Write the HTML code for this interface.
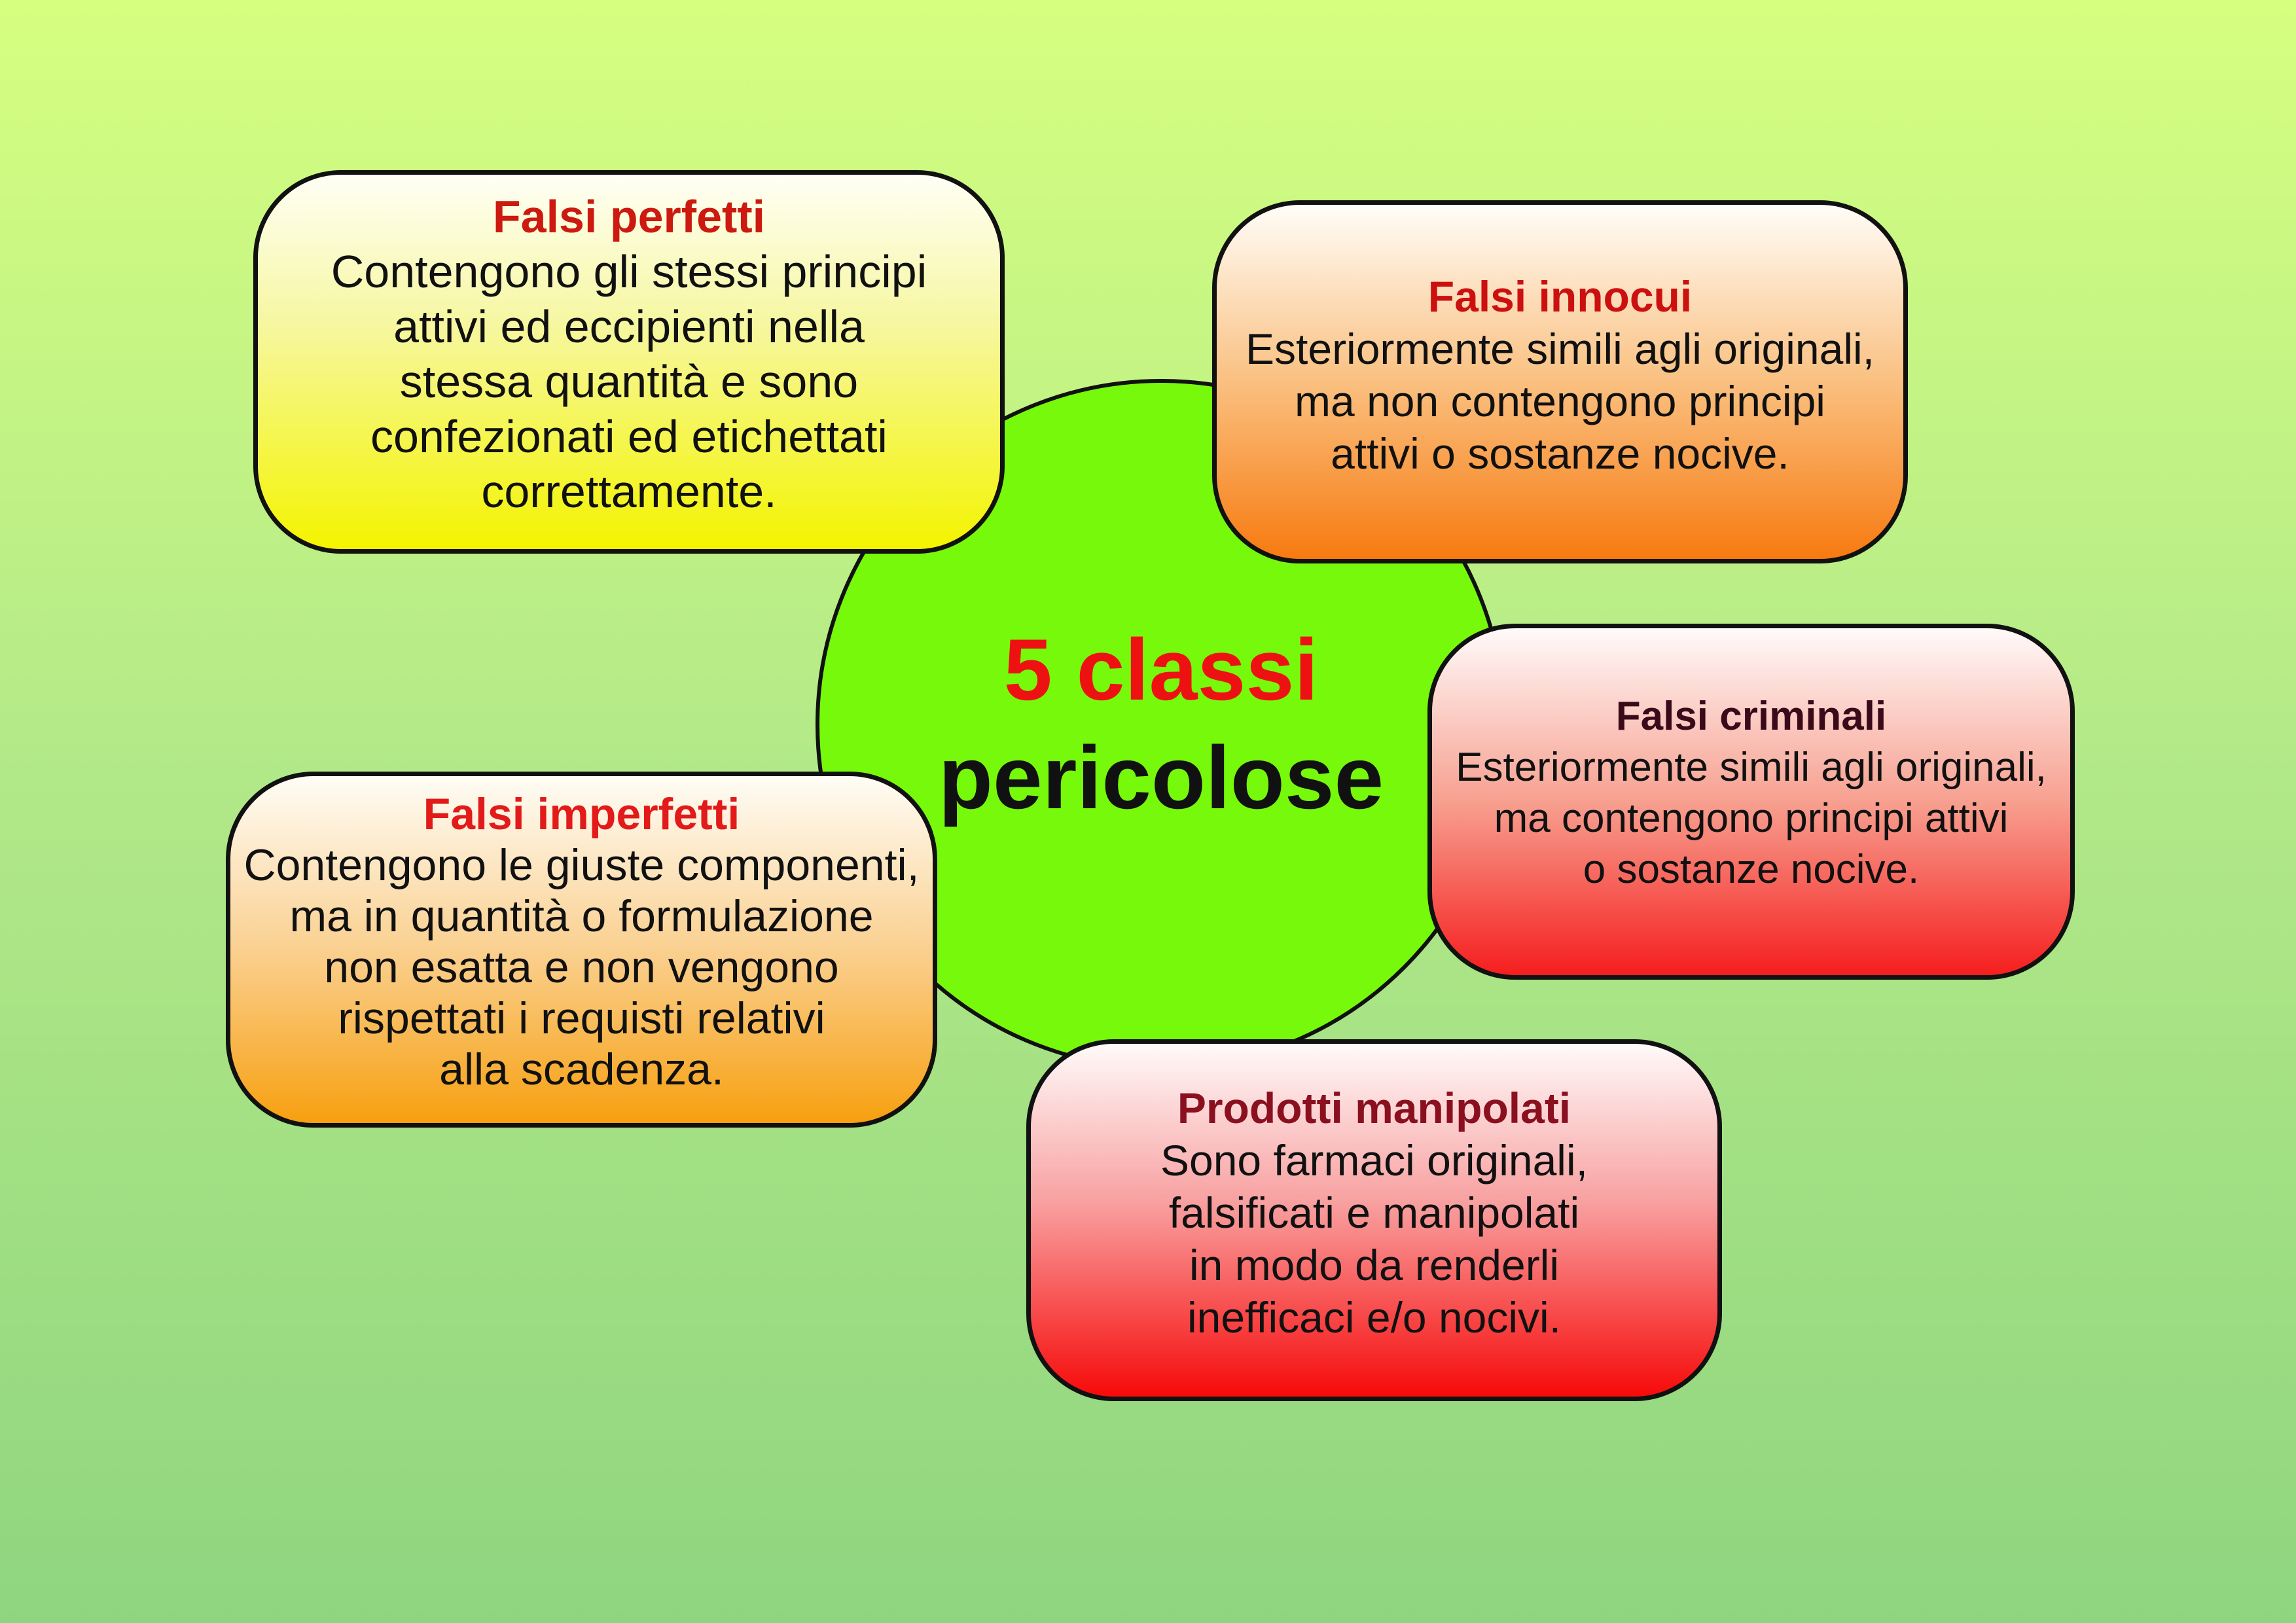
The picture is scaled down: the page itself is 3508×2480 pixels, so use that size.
<!DOCTYPE html>
<html><head><meta charset="utf-8"><style>
*{margin:0;padding:0;box-sizing:border-box}
body{width:3508px;height:2480px;overflow:hidden;position:relative;font-family:"Liberation Sans",Arial,sans-serif;background:linear-gradient(#d6ff80,#b4ea88 45%,#8fd57f)}
.c{position:absolute;left:1246px;top:579px;width:1056px;height:1056px;border-radius:50%;background:#77f90b;border:6px solid #111}
.b{position:absolute;border:7px solid #111;border-radius:134px;text-align:center;font-size:70px;color:#111}
.b div{position:absolute;left:-40px;right:-40px;white-space:nowrap}
.t{font-weight:bold}
.ct{position:absolute;left:1246px;width:1056px;text-align:center;font-weight:bold}
</style></head><body>
<div class="c"></div>
<div class="ct" style="top:948px;font-size:133px;color:#ee1111">5 classi</div>
<div class="ct" style="top:1110px;font-size:136px;color:#111">pericolose</div>

<div class="b" style="left:387px;top:260px;width:1148px;height:586px;background:linear-gradient(#fffff6,#f6f7a0 40%,#f4f400)">
<div style="top:22px;line-height:84px"><span class="t" style="color:#cc1a10">Falsi perfetti</span><br>Contengono gli stessi principi<br>attivi ed eccipienti nella<br>stessa quantità e sono<br>confezionati ed etichettati<br>correttamente.</div></div>

<div class="b" style="left:1852px;top:306px;width:1063px;height:555px;font-size:66px;background:linear-gradient(#fffdf8,#fac080 50%,#f77a10)">
<div style="top:100px;line-height:80px"><span class="t" style="color:#cc1010">Falsi innocui</span><br>Esteriormente simili agli originali,<br>ma non contengono principi<br>attivi o sostanze nocive.</div></div>

<div class="b" style="left:2181px;top:953px;width:989px;height:544px;font-size:62px;background:linear-gradient(#fffafa,#f7a090 50%,#f51e1e)">
<div style="top:96px;line-height:78px"><span class="t" style="color:#3a0a1a">Falsi criminali</span><br>Esteriormente simili agli originali,<br>ma contengono principi attivi<br>o sostanze nocive.</div></div>

<div class="b" style="left:345px;top:1179px;width:1087px;height:544px;font-size:68px;background:linear-gradient(#fffdf6,#fad090 50%,#f7a010)">
<div style="top:19px;line-height:78px"><span class="t" style="color:#e21a1a">Falsi imperfetti</span><br>Contengono le giuste componenti,<br>ma in quantità o formulazione<br>non esatta e non vengono<br>rispettati i requisti relativi<br>alla scadenza.</div></div>

<div class="b" style="left:1568px;top:1588px;width:1063px;height:553px;font-size:66px;background:linear-gradient(#fffafa,#f8a0a0 45%,#f70a0a)">
<div style="top:58px;line-height:80px"><span class="t" style="color:#8a1020">Prodotti manipolati</span><br>Sono farmaci originali,<br>falsificati e manipolati<br>in modo da renderli<br>inefficaci e/o nocivi.</div></div>
</body></html>
